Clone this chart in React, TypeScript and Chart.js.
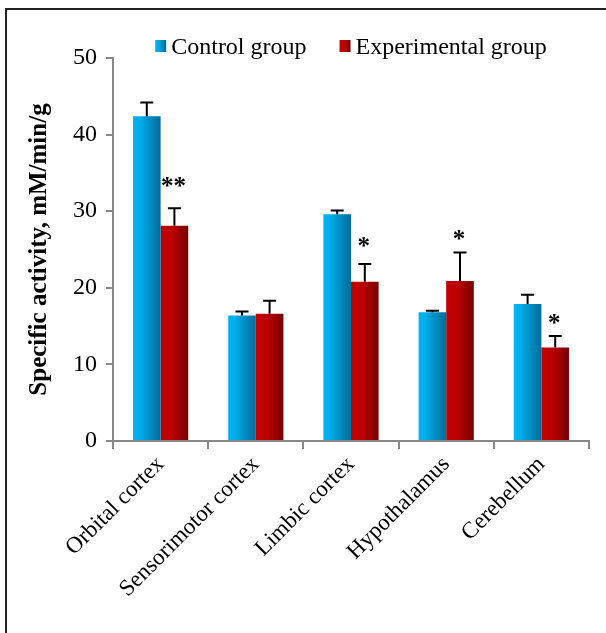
import React, { useEffect, useRef } from "react";
import { Chart, registerables } from "chart.js";

Chart.register(...registerables);

const categories = ["Orbital cortex", "Sensorimotor cortex", "Limbic cortex", "Hypothalamus", "Cerebellum"];
const seriesNames = ["Control group", "Experimental group"];
const controlValues = [42.4, 16.4, 29.6, 16.8, 17.9];
const controlErrors = [1.8, 0.5, 0.5, 0.2, 1.2];
const experimentalValues = [28.1, 16.6, 20.8, 20.9, 12.2];
const experimentalErrors = [2.3, 1.7, 2.3, 3.7, 1.5];
const significanceMarks = ["**", "", "*", "*", "*"];
const significanceLevels = [33.8, 0, 26.0, 26.9, 15.9];
const yTicks = [0, 10, 20, 30, 40, 50];
const yTitle = "Specific activity, mM/min/g";

const CAT_PCT = 0.58;
const SERIF = "'Liberation Serif', 'Times New Roman', serif";
const blueStops: [number, string][] = [[0, "#00B4F3"], [0.25, "#00ADEB"], [1, "#006B96"]];
const redStops: [number, string][] = [[0, "#C40000"], [0.4, "#BC0000"], [1, "#760000"]];

function grad(ctx: CanvasRenderingContext2D, x0: number, x1: number, stops: [number, string][]) {
  const g = ctx.createLinearGradient(x0, 0, x1, 0);
  stops.forEach(([o, c]) => g.addColorStop(o, c));
  return g;
}

function barFill(dsIndex: number) {
  const stops = dsIndex === 0 ? blueStops : redStops;
  return (c: any) => {
    const chart = c.chart;
    const xs = chart.scales && chart.scales.x;
    if (!xs || c.type !== "data" || !xs.width) return stops[0][1];
    const center = xs.getPixelForValue(c.dataIndex);
    const cat = xs.width / categories.length;
    const bw = (cat * CAT_PCT) / 2;
    const left = dsIndex === 0 ? center - bw : center;
    return grad(chart.ctx, left, left + bw, stops);
  };
}

const errorPlugin = {
  id: "errorBars",
  afterDatasetsDraw(chart: any) {
    const ctx = chart.ctx;
    const ys = chart.scales.y;
    const errs = [controlErrors, experimentalErrors];
    ctx.save();
    ctx.strokeStyle = "#000";
    ctx.lineWidth = 2;
    chart.data.datasets.forEach((ds: any, di: number) => {
      const meta = chart.getDatasetMeta(di);
      meta.data.forEach((el: any, i: number) => {
        const v = ds.data[i];
        const top = ys.getPixelForValue(v + errs[di][i]);
        ctx.beginPath();
        ctx.moveTo(el.x, el.y);
        ctx.lineTo(el.x, top);
        ctx.moveTo(el.x - 6.5, top);
        ctx.lineTo(el.x + 6.5, top);
        ctx.stroke();
      });
    });
    const meta1 = chart.getDatasetMeta(1);
    ctx.fillStyle = "#000";
    ctx.font = `bold 25px ${SERIF}`;
    ctx.textAlign = "center";
    ctx.textBaseline = "alphabetic";
    significanceMarks.forEach((m, i) => {
      if (!m) return;
      const el = meta1.data[i];
      const y = ys.getPixelForValue(significanceLevels[i]);
      ctx.fillText(m, el.x - 1, y + 12);
    });
    ctx.restore();
  },
};

const legendPlugin = {
  id: "customLegend",
  afterDraw(chart: any) {
    const ctx = chart.ctx;
    const ca = chart.chartArea;
    ctx.save();
    ctx.font = `24px ${SERIF}`;
    ctx.textBaseline = "alphabetic";
    ctx.textAlign = "left";
    const box = 11;
    const gapText = 5;
    const gapItem = 33;
    const widths = seriesNames.map((n) => box + gapText + ctx.measureText(n).width);
    const total = widths.reduce((a, b) => a + b, 0) + gapItem * (seriesNames.length - 1);
    let x = (ca.left + ca.right) / 2 - total / 2;
    const yTop = 40;
    seriesNames.forEach((n, i) => {
      const stops = i === 0 ? blueStops : redStops;
      ctx.fillStyle = grad(ctx, x, x + box, stops);
      ctx.fillRect(x, yTop, box, 12);
      ctx.fillStyle = "#000";
      ctx.fillText(n, x + box + gapText, yTop + 14);
      x += widths[i] + gapItem;
    });
    ctx.restore();
  },
};

export default function App() {
  const ref = useRef<HTMLCanvasElement | null>(null);
  useEffect(() => {
    if (!ref.current) return;
    const chart = new Chart(ref.current, {
      type: "bar",
      data: {
        labels: categories,
        datasets: [
          { label: seriesNames[0], data: controlValues, backgroundColor: barFill(0), borderWidth: 0, categoryPercentage: CAT_PCT, barPercentage: 1 },
          { label: seriesNames[1], data: experimentalValues, backgroundColor: barFill(1), borderWidth: 0, categoryPercentage: CAT_PCT, barPercentage: 1 },
        ],
      },
      options: {
        animation: false,
        responsive: false,
        maintainAspectRatio: false,
        devicePixelRatio: 1,
        layout: { padding: { left: 0, right: 17, top: 58, bottom: 0 } },
        plugins: { legend: { display: false }, tooltip: { enabled: false } },
        scales: {
          x: {
            grid: { display: true, drawOnChartArea: false, drawTicks: true, tickLength: 8, color: "#888888", lineWidth: 2, offset: true },
            border: { display: true, color: "#888888", width: 2 },
            ticks: { autoSkip: false, maxRotation: 45, minRotation: 45, padding: 2, color: "#000", font: { family: SERIF, size: 23 } },
            afterFit: (s: any) => { s.height = 192; },
          },
          y: {
            min: 0,
            max: 50,
            afterBuildTicks: (s: any) => { s.ticks = yTicks.map((v) => ({ value: v })); },
            grid: { display: true, drawOnChartArea: false, drawTicks: true, tickLength: 7, color: "#888888", lineWidth: 2 },
            border: { display: true, color: "#888888", width: 2 },
            ticks: { padding: 9, color: "#000", font: { family: SERIF, size: 24 } },
            title: { display: true, text: yTitle, color: "#000", font: { family: SERIF, size: 25, weight: "bold", lineHeight: 1.2 }, padding: { top: 25, bottom: 0 } },
            afterFit: (s: any) => { s.width = 113; },
          },
        },
      },
      plugins: [errorPlugin, legendPlugin],
    });
    return () => chart.destroy();
  }, []);

  return (
    <div style={{ position: "fixed", left: 0, top: 0, width: 606, height: 633, overflow: "hidden", background: "#fff" }}>
      <div style={{ position: "absolute", left: 5, top: 8, width: 700, height: 700, border: "2px solid #222", boxSizing: "border-box" }} />
      <canvas ref={ref} width={606} height={633} style={{ position: "absolute", left: 0, top: 0, width: 606, height: 633 }} />
    </div>
  );
}
